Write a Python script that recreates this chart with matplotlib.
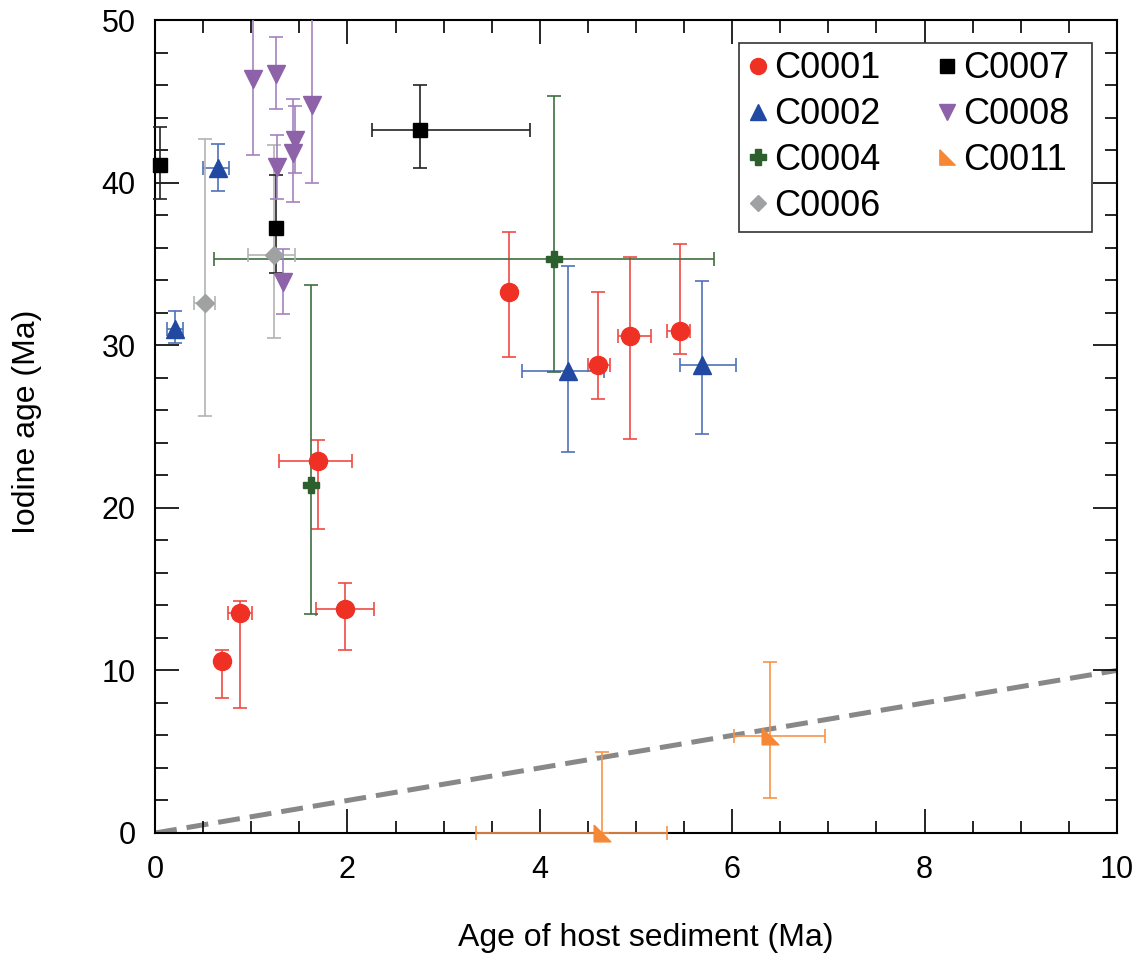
import matplotlib
matplotlib.use("Agg")
import matplotlib.pyplot as plt
from matplotlib.lines import Line2D
from matplotlib.patches import Rectangle
from matplotlib.ticker import MultipleLocator
import numpy as np

plt.rcParams['font.family'] = ['Liberation Sans', 'DejaVu Sans']

# ---- data: x, y and absolute error-bar bounds ----
c0001_x = [0.70, 0.88, 1.69, 1.97, 3.68, 4.60, 4.94, 5.46]
c0001_y = [10.58, 13.5, 22.85, 13.75, 33.25, 28.8, 30.57, 30.9]
c0001_xlo = [0.70, 0.76, 1.29, 1.67, 3.68, 4.50, 4.81, 5.32]
c0001_xhi = [0.70, 1.01, 2.05, 2.28, 3.68, 4.73, 5.16, 5.56]
c0001_ylo = [8.3, 7.7, 18.7, 11.27, 29.27, 26.7, 24.25, 29.44]
c0001_yhi = [11.25, 14.28, 24.2, 15.4, 36.94, 33.3, 35.44, 36.2]

c0002_x = [0.21, 0.65, 4.29, 5.69]
c0002_y = [31.0, 40.87, 28.39, 28.78]
c0002_xlo = [0.12, 0.50, 3.81, 5.46]
c0002_xhi = [0.29, 0.77, 4.67, 6.04]
c0002_ylo = [30.15, 39.5, 23.45, 24.54]
c0002_yhi = [32.1, 42.4, 34.88, 33.95]

c0004_x = [1.625, 4.15]
c0004_y = [21.4, 35.33]
c0004_xlo = [1.625, 0.61]
c0004_xhi = [1.625, 5.81]
c0004_ylo = [13.49, 28.36]
c0004_yhi = [33.7, 45.3]

c0006_x = [0.52, 1.24]
c0006_y = [32.6, 35.55]
c0006_xlo = [0.40, 0.97]
c0006_xhi = [0.62, 1.45]
c0006_ylo = [25.65, 30.42]
c0006_yhi = [42.68, 42.3]

c0007_x = [0.05, 1.26, 2.75]
c0007_y = [41.08, 37.18, 43.24]
c0007_xlo = [0.05, 1.26, 2.26]
c0007_xhi = [0.05, 1.26, 3.90]
c0007_ylo = [39.0, 34.42, 40.92]
c0007_yhi = [43.44, 40.47, 45.98]

c0008_x = [1.02, 1.26, 1.63, 1.265, 1.43, 1.46, 1.33]
c0008_y = [46.37, 46.68, 44.77, 40.98, 41.84, 42.6, 33.9]
c0008_xlo = c0008_x
c0008_xhi = c0008_x
c0008_ylo = [41.73, 44.53, 39.95, 38.99, 38.78, 40.6, 31.95]
c0008_yhi = [53.0, 48.93, 53.0, 42.94, 45.14, 44.7, 35.93]

c0011_x = [4.65, 6.39]
c0011_y = [0.0, 5.98]
c0011_xlo = [3.34, 6.02]
c0011_xhi = [5.32, 6.97]
c0011_ylo = [0.0, 2.17]
c0011_yhi = [4.98, 10.52]

ref_x = [0, 10]
ref_y = [0, 10]

labels = ['C0001', 'C0002', 'C0004', 'C0006', 'C0007', 'C0008', 'C0011']

# custom right-triangle marker (◣)
rtri = [(-1, 1), (-1, -1), (1, -1), (-1, 1)]

#          x, y, xlo, xhi, ylo, yhi, marker, face, errcol, size, legend size, clip
series = [
    (c0001_x, c0001_y, c0001_xlo, c0001_xhi, c0001_ylo, c0001_yhi, 'o', '#ee3124', '#f04a44', 13, 11.5, False),
    (c0002_x, c0002_y, c0002_xlo, c0002_xhi, c0002_ylo, c0002_yhi, '^', '#2149a1', '#4f72b8', 13, 12, False),
    (c0004_x, c0004_y, c0004_xlo, c0004_xhi, c0004_ylo, c0004_yhi, 'P', '#2d5f2e', '#3e6e3f', 11, 11, False),
    (c0006_x, c0006_y, c0006_xlo, c0006_xhi, c0006_ylo, c0006_yhi, 'D', '#a0a1a3', '#b3b3b3', 9, 8.5, False),
    (c0007_x, c0007_y, c0007_xlo, c0007_xhi, c0007_ylo, c0007_yhi, 's', '#000000', '#222222', 10, 9.5, False),
    (c0008_x, c0008_y, c0008_xlo, c0008_xhi, c0008_ylo, c0008_yhi, 'v', '#8e62a9', '#a583bf', 13, 12, True),
    (c0011_x, c0011_y, c0011_xlo, c0011_xhi, c0011_ylo, c0011_yhi, rtri, '#f58735', '#f6934a', 12, 11, False),
]

fig = plt.figure(figsize=(11.45, 9.59), dpi=100)
ax = fig.add_axes([0.1354, 0.1314, 0.8401, 0.8477])

ax.plot(ref_x, ref_y, color='#888888', lw=3.6, ls=(0, (4.4, 2.0)), zorder=1)

handles = []
for (x, y, xlo, xhi, ylo, yhi, m, mc, ec, ms, lms, clip), lab in zip(series, labels):
    x = np.array(x); y = np.array(y)
    xerr = np.vstack([x - np.array(xlo), np.array(xhi) - x])
    yerr = np.vstack([y - np.array(ylo), np.array(yhi) - y])
    eb = ax.errorbar(x, y, xerr=xerr, yerr=yerr, fmt='none', ecolor=ec,
                     elinewidth=1.2, capsize=5, capthick=1.2, zorder=2)
    for art in eb.lines[1] + eb.lines[2]:
        art.set_clip_on(clip)
    ax.plot(x, y, ls='none', marker=m, color=mc, ms=ms, mec=mc, zorder=3, clip_on=clip)
    handles.append(Line2D([], [], ls='none', marker=m, color=mc, mec=mc, ms=lms))

ax.set_xlim(0, 10)
ax.set_ylim(0, 50)
ax.xaxis.set_major_locator(MultipleLocator(2))
ax.xaxis.set_minor_locator(MultipleLocator(0.5))
ax.yaxis.set_major_locator(MultipleLocator(10))
ax.yaxis.set_minor_locator(MultipleLocator(2))
ax.tick_params(which='both', direction='in', top=True, right=True, labelsize=22, width=1.2)
ax.tick_params(which='major', length=17)
ax.tick_params(which='minor', length=9)
ax.tick_params(axis='x', which='major', pad=16)
ax.tick_params(axis='y', which='major', pad=14)
for s in ax.spines.values():
    s.set_linewidth(1.5)
    s.set_zorder(1.5)

ax.set_xlabel('Age of host sediment (Ma)', fontsize=23)
ax.set_ylabel('Iodine age (Ma)', fontsize=23)
ax.xaxis.set_label_coords(0.510, -0.1107)
ax.yaxis.set_label_coords(-0.118, 0.5055)

# legend box (frame drawn separately to match the reference proportions)
box_l, box_r, box_b, box_t = 0.607, 0.974, 0.739, 0.9717
ax.add_patch(Rectangle((box_l, box_b), box_r - box_l, box_t - box_b, transform=ax.transAxes,
                       facecolor='white', edgecolor='#333333', lw=1.2, zorder=4.9))
leg = ax.legend(handles, labels, ncol=2, loc='upper left', bbox_to_anchor=(box_l, box_t),
                fontsize=26, frameon=False,
                handlelength=0.6, handletextpad=0.14, columnspacing=1.55,
                labelspacing=0.3, borderpad=0.23, borderaxespad=0)
leg.set_zorder(5)

fig.savefig('out.png', dpi=100)
